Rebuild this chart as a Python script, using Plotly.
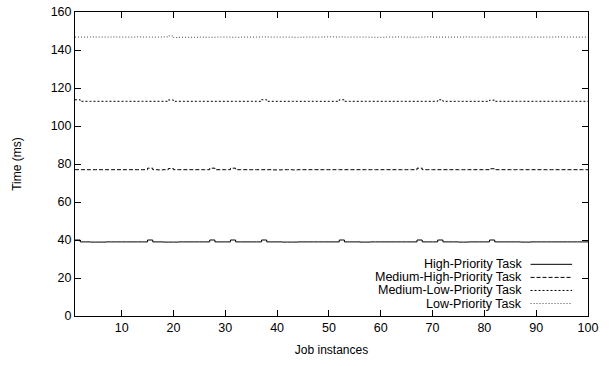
import plotly.graph_objects as go

job = list(range(1, 101))

high = [40.0, 39.0, 39.0, 38.9, 38.9, 38.9, 39.0, 39.0, 39.0, 39.0,
        39.0, 39.0, 39.0, 39.0, 40.0, 39.0, 39.0, 38.9, 38.9, 38.9,
        39.0, 39.0, 39.0, 39.0, 39.0, 39.0, 40.0, 39.0, 39.0, 39.0,
        40.0, 39.0, 39.0, 39.0, 39.0, 39.0, 40.0, 39.0, 39.0, 39.0,
        38.9, 38.9, 38.9, 39.0, 39.0, 39.0, 39.0, 39.0, 39.0, 39.0,
        39.0, 40.0, 39.0, 39.0, 39.0, 38.9, 38.9, 39.0, 39.0, 39.0,
        39.0, 39.0, 39.0, 39.0, 39.0, 39.0, 40.0, 39.0, 39.0, 39.0,
        40.0, 39.0, 39.0, 39.0, 38.9, 38.9, 39.0, 39.0, 39.0, 39.0,
        40.0, 39.0, 39.0, 39.0, 39.0, 39.0, 38.9, 38.9, 39.0, 39.0,
        39.0, 39.0, 39.0, 39.0, 39.0, 39.0, 39.0, 39.0, 39.0, 39.0]

med_high = [77.0, 77.0, 77.0, 77.0, 77.0, 77.0, 77.0, 77.0, 77.0, 77.0,
            77.0, 77.0, 77.0, 77.0, 77.8, 77.0, 76.9, 77.0, 77.6, 77.0,
            77.0, 77.0, 77.0, 77.0, 77.0, 77.0, 77.8, 77.0, 77.0, 77.0,
            77.8, 77.0, 77.0, 77.0, 77.0, 77.0, 77.0, 77.0, 76.9, 76.9,
            77.0, 77.0, 76.9, 77.0, 77.0, 77.0, 77.0, 77.0, 77.0, 77.0,
            77.0, 77.0, 77.0, 77.0, 77.0, 77.0, 77.0, 77.0, 77.0, 77.0,
            77.0, 77.0, 77.0, 77.0, 77.0, 77.0, 77.8, 77.0, 77.0, 77.0,
            77.0, 77.0, 77.0, 77.0, 77.0, 77.0, 77.0, 77.0, 77.0, 77.0,
            77.5, 77.0, 77.0, 77.0, 77.0, 77.0, 77.0, 77.0, 77.0, 77.0,
            77.0, 77.0, 77.0, 77.0, 77.0, 77.0, 77.0, 77.0, 77.0, 77.0]

med_low = [113.8, 113.0, 113.0, 113.0, 113.0, 113.0, 113.0, 113.0, 113.0, 113.0,
           113.0, 113.0, 113.0, 113.0, 113.0, 113.0, 113.0, 113.0, 113.7, 113.0,
           113.0, 113.0, 113.0, 113.0, 113.0, 113.0, 113.0, 113.0, 113.0, 113.0,
           113.0, 113.0, 113.0, 113.0, 113.0, 113.0, 113.8, 113.0, 113.0, 113.0,
           113.0, 113.0, 113.0, 113.0, 113.0, 113.0, 113.0, 113.0, 113.0, 113.0,
           113.0, 113.8, 113.0, 113.0, 113.0, 113.0, 113.0, 113.0, 113.0, 113.0,
           113.0, 113.0, 113.0, 113.0, 113.0, 113.0, 113.0, 113.0, 113.0, 113.0,
           113.8, 113.0, 113.0, 113.0, 113.0, 113.0, 113.0, 113.0, 113.0, 113.0,
           113.6, 113.0, 113.0, 113.0, 113.0, 113.0, 113.0, 113.0, 113.0, 113.0,
           113.0, 113.0, 113.0, 113.0, 113.0, 113.0, 113.0, 113.0, 113.0, 113.0]

low = [146.8, 146.8, 146.8, 146.9, 146.8, 146.8, 146.8, 146.9, 146.8, 146.8,
       146.8, 146.8, 146.9, 146.8, 146.8, 146.8, 146.8, 146.9, 147.4, 146.6,
       146.7, 146.7, 146.7, 146.7, 146.8, 146.7, 146.7, 146.8, 146.8, 146.8,
       146.7, 146.7, 146.8, 146.8, 146.8, 146.8, 146.9, 146.8, 146.8, 146.8,
       146.8, 146.8, 146.7, 146.7, 146.8, 146.8, 146.8, 146.8, 146.9, 146.9,
       146.8, 146.9, 146.8, 146.8, 146.8, 146.8, 146.8, 146.7, 146.7, 146.7,
       146.8, 146.8, 146.9, 146.8, 146.8, 146.7, 146.8, 146.8, 146.9, 146.8,
       146.8, 146.8, 146.8, 146.8, 146.8, 146.9, 146.8, 146.8, 146.8, 146.8,
       146.8, 146.8, 146.8, 146.9, 146.8, 146.8, 146.8, 146.8, 146.8, 146.8,
       146.8, 146.8, 146.8, 146.9, 146.8, 146.8, 146.8, 146.8, 146.8, 146.8]

series_names = ["High-Priority Task", "Medium-High-Priority Task",
                "Medium-Low-Priority Task", "Low-Priority Task"]
series_data = [high, med_high, med_low, low]
colors = ["#000000", "#000000", "#000000", "#444444"]
dashes = ["solid", "4px,2px", "2px,2px", "1px,2px"]

FONT = "Liberation Sans, Arial, Helvetica, sans-serif"

fig = go.Figure()
for name, ys, c, d in zip(series_names, series_data, colors, dashes):
    fig.add_trace(go.Scatter(x=job, y=ys, mode="lines", name=name,
                             line=dict(color=c, width=1, dash=d, shape="hv"),
                             showlegend=False))

# custom legend (text on left, sample line on right), gnuplot-style
leg_y = [0.170, 0.127, 0.084, 0.041]
for name, c, d, yy in zip(series_names, colors, dashes, leg_y):
    fig.add_annotation(x=0.876, y=yy, xref="paper", yref="paper", text=name,
                       showarrow=False, xanchor="right", yanchor="middle",
                       font=dict(family=FONT, size=12.5, color="#000"))
    fig.add_shape(type="line", xref="paper", yref="paper",
                  x0=0.888, x1=0.969, y0=yy, y1=yy,
                  line=dict(color=c, width=1, dash=d))

axis_common = dict(showline=True, linecolor="#000", linewidth=1, mirror="ticks",
                   ticks="inside", ticklen=6, tickcolor="#000", tickwidth=1,
                   showgrid=False, zeroline=False, ticklabeloverflow="allow",
                   tickfont=dict(family=FONT, size=12.5, color="#000"))

fig.update_xaxes(range=[1, 100], tickvals=[10, 20, 30, 40, 50, 60, 70, 80, 90, 100],
                 title=dict(text="Job instances", font=dict(family=FONT, size=12, color="#000"),
                            standoff=11),
                 **axis_common)
fig.update_yaxes(range=[0, 160], tickvals=[0, 20, 40, 60, 80, 100, 120, 140, 160],
                 title=dict(text="Time (ms)", font=dict(family=FONT, size=12, color="#000"),
                            standoff=26),
                 **axis_common)

fig.update_layout(width=613, height=366, margin=dict(l=75, r=25, t=5, b=50),
                  plot_bgcolor="white", paper_bgcolor="white",
                  font=dict(family=FONT, size=12, color="#000"))

fig.write_html("out.html", config={"displayModeBar": False},
               post_script="document.body.style.margin='0';")
